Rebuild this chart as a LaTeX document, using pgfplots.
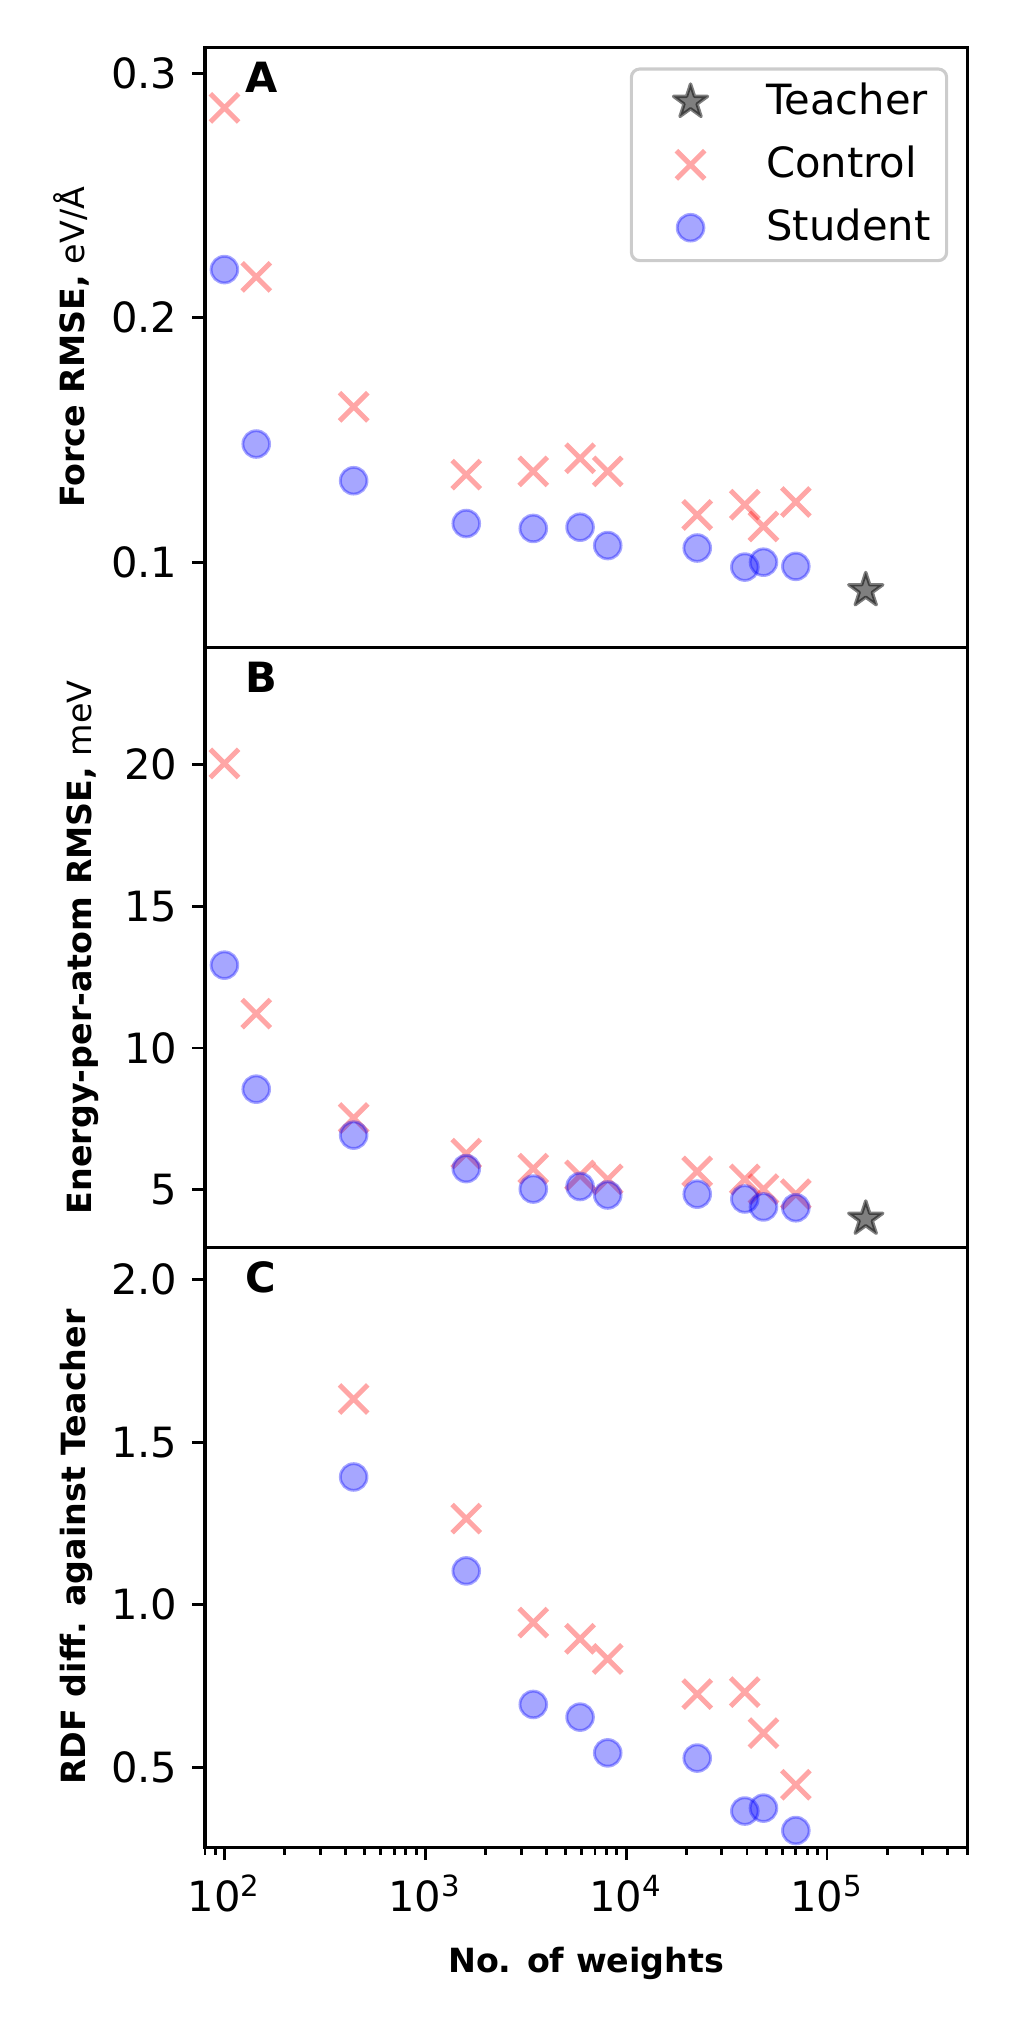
\documentclass[border=0pt]{standalone}
\usepackage{fontspec}
\setmainfont{DejaVu Sans}
\usepackage{pgfplots}
\pgfplotsset{compat=1.18}
\usetikzlibrary{plotmarks}

% filled five-pointed star, like matplotlib's '*'
\pgfdeclareplotmark{fstar}{%
  \pgfpathmoveto{\pgfpointpolar{90}{\pgfplotmarksize}}%
  \pgfpathlineto{\pgfpointpolar{126}{0.382*\pgfplotmarksize}}%
  \pgfpathlineto{\pgfpointpolar{162}{\pgfplotmarksize}}%
  \pgfpathlineto{\pgfpointpolar{198}{0.382*\pgfplotmarksize}}%
  \pgfpathlineto{\pgfpointpolar{234}{\pgfplotmarksize}}%
  \pgfpathlineto{\pgfpointpolar{270}{0.382*\pgfplotmarksize}}%
  \pgfpathlineto{\pgfpointpolar{306}{\pgfplotmarksize}}%
  \pgfpathlineto{\pgfpointpolar{342}{0.382*\pgfplotmarksize}}%
  \pgfpathlineto{\pgfpointpolar{18}{\pgfplotmarksize}}%
  \pgfpathlineto{\pgfpointpolar{54}{0.382*\pgfplotmarksize}}%
  \pgfpathclose
  \pgfusepathqfillstroke
}

\pgfplotsset{
  mypanel/.style={
    scale only axis, width=183pt, height=144pt,
    xmin=80, xmax=5e5,
    clip=false,
    axis line style={line width=0.75pt},
    tick style={black, line width=0.7pt},
    tick align=outside,
    major tick length=3.1pt, minor tick length=1.8pt,
    xtick pos=bottom, ytick pos=left,
    tick label style={font=\fontsize{10}{12}\selectfont},
    /pgf/number format/assume math mode=true,
    ylabel style={font=\fontsize{8}{10}\selectfont},
    xlabel style={font=\fontsize{8}{10}\selectfont\bfseries, yshift=-1.5pt},
  },
  teacher/.style={only marks, mark=fstar, mark size=4.3pt,
    mark options={sharp corners, line join=round, draw=black, fill=black, opacity=0.5, line width=0.8pt}},
  control/.style={only marks, mark=x, mark size=4.8pt,
    mark options={draw=red, opacity=0.35, line width=1.2pt}},
  student/.style={only marks, mark=*, mark size=3.2pt,
    mark options={draw=blue, fill=blue, opacity=0.35, line width=0.7pt}},
}

\newcommand{\panellabel}[1]{\node[anchor=base west, inner sep=0pt,
  font=\fontsize{10}{12}\selectfont\bfseries, xshift=9.6pt, yshift=-10.8pt]
  at (rel axis cs:0,1) {#1};}

\begin{document}
\begin{tikzpicture}
\path (0,0) rectangle (242.9pt,486.1pt);

% A: force error
\begin{semilogxaxis}[mypanel, at={(49.2pt,330.7pt)}, anchor=south west,
  xtick=\empty,
  ymin=0.0653, ymax=0.3105, ytick={0.1,0.2,0.3},
  yticklabel style={/pgf/number format/.cd, fixed, fixed zerofill, precision=1},
  ylabel={\textbf{Force RMSE,} eV/Å}, ylabel shift=-1.6pt,
  legend style={at={(rel axis cs:1,1)}, anchor=north east, xshift=-4.6pt, yshift=-4.8pt,
    draw=black!20, line width=0.75pt, rounded corners=2pt, fill=white,
    font=\fontsize{10}{12}\selectfont, inner xsep=3.9pt, inner ysep=2.9pt, row sep=5.1pt,
    nodes={inner sep=0pt}, cells={anchor=west}},
  legend image code/.code={\draw[#1] plot coordinates {(0pt,0pt)};
    \path[draw=none, fill=none] (-10.3pt,-5pt) rectangle (18.2pt,5pt);},
]
\addplot[teacher] coordinates {(156000,0.0886)};
\addlegendentry{Teacher}
\addplot[control] coordinates {(100,0.2858)(144,0.2167)(440,0.1636)(1600,0.1359)(3450,0.1372)(5900,0.1426)(8100,0.1372)(22600,0.1194)(39000,0.1236)(48300,0.1147)(70000,0.1247)};
\addlegendentry{Control}
\addplot[student] coordinates {(100,0.2197)(144,0.1484)(440,0.1334)(1600,0.1159)(3450,0.1139)(5900,0.1144)(8100,0.1069)(22600,0.1059)(39000,0.0981)(48300,0.1001)(70000,0.0984)};
\addlegendentry{Student}
\panellabel{A}
\end{semilogxaxis}

% B: energy error
\begin{semilogxaxis}[mypanel, at={(49.2pt,186.7pt)}, anchor=south west,
  xtick=\empty,
  ymin=2.98, ymax=24.12, ytick={5,10,15,20},
  ylabel={\textbf{Energy-per-atom RMSE,} meV}, ylabel shift=-0.8pt,
]
\addplot[teacher] coordinates {(156000,3.98)};
\addplot[control] coordinates {(100,20.03)(144,11.21)(440,7.53)(1600,6.28)(3450,5.75)(5900,5.51)(8100,5.37)(22600,5.65)(39000,5.37)(48300,5.03)(70000,4.85)};
\addplot[student] coordinates {(100,12.92)(144,8.55)(440,6.93)(1600,5.75)(3450,5.03)(5900,5.12)(8100,4.82)(22600,4.85)(39000,4.68)(48300,4.40)(70000,4.37)};
\panellabel{B}
\end{semilogxaxis}

% C: RDF difference
\begin{semilogxaxis}[mypanel, at={(49.2pt,42.7pt)}, anchor=south west,
  xtick={100,1000,10000,100000},
  xticklabels={10\textsuperscript{2},10\textsuperscript{3},10\textsuperscript{4},10\textsuperscript{5}},
  minor xtick={80,90,200,300,400,500,600,700,800,900,2000,3000,4000,5000,6000,7000,8000,9000,
    20000,30000,40000,50000,60000,70000,80000,90000,200000,300000,400000,500000},
  ymin=0.254, ymax=2.10, ytick={0.5,1.0,1.5,2.0},
  yticklabel style={/pgf/number format/.cd, fixed, fixed zerofill, precision=1},
  ylabel={\textbf{RDF diff. against Teacher}}, ylabel shift=-2.4pt,
  xlabel={No. of weights},
]
\addplot[control] coordinates {(440,1.633)(1600,1.265)(3450,0.945)(5900,0.895)(8100,0.833)(22600,0.725)(39000,0.731)(48300,0.605)(70000,0.446)};
\addplot[student] coordinates {(440,1.393)(1600,1.104)(3450,0.693)(5900,0.654)(8100,0.544)(22600,0.528)(39000,0.365)(48300,0.374)(70000,0.305)};
\panellabel{C}
\end{semilogxaxis}
\end{tikzpicture}
\end{document}
